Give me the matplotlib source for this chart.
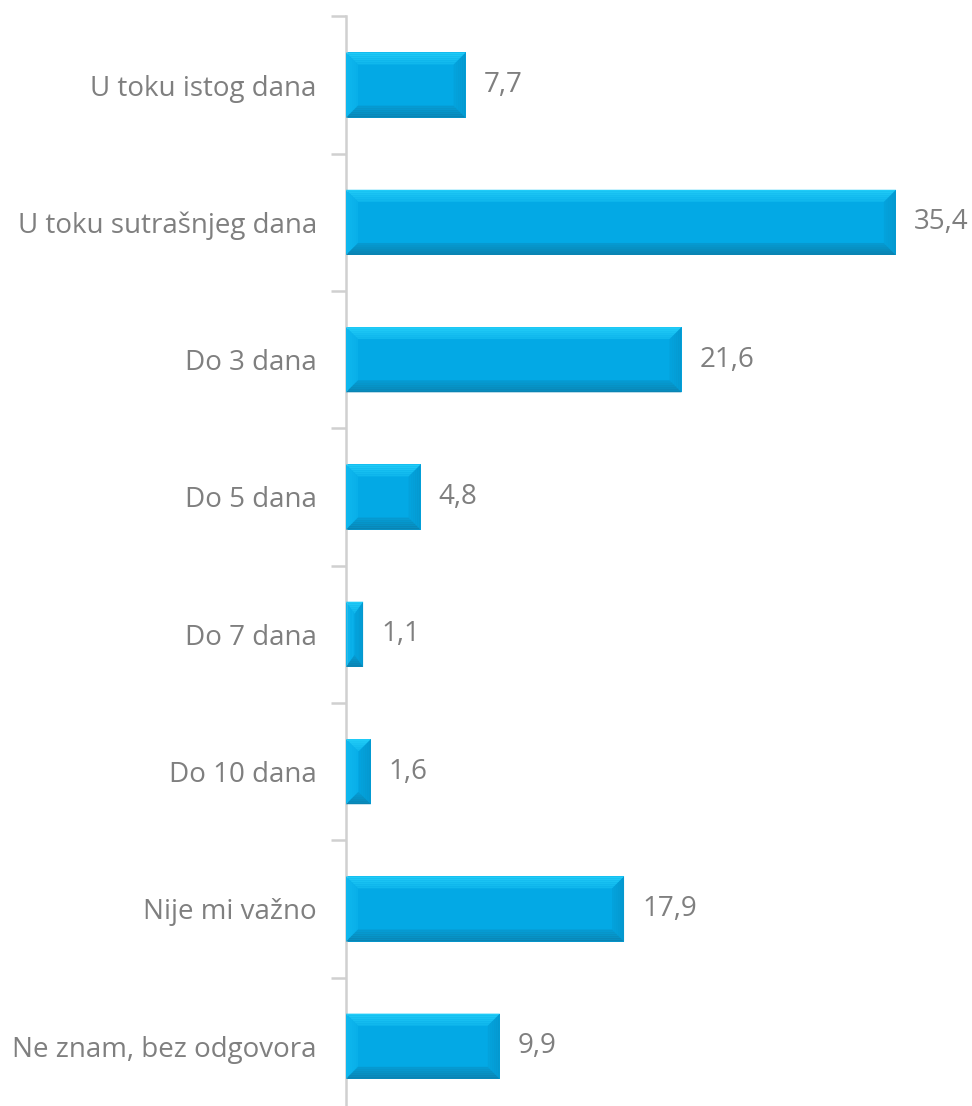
import matplotlib
matplotlib.use("Agg")
import matplotlib.pyplot as plt
from matplotlib.patches import Polygon, Rectangle
from matplotlib.colors import to_rgb
import numpy as np

categories = ["U toku istog dana", "U toku sutrašnjeg dana", "Do 3 dana", "Do 5 dana",
              "Do 7 dana", "Do 10 dana", "Nije mi važno", "Ne znam, bez odgovora"]
values = [7.7, 35.4, 21.6, 4.8, 1.1, 1.6, 17.9, 9.9]
value_labels = ["7,7", "35,4", "21,6", "4,8", "1,1", "1,6", "17,9", "9,9"]

plt.rcParams['font.family'] = ['Open Sans', 'DejaVu Sans']

W, H = 972, 1106
fig = plt.figure(figsize=(W / 100, H / 100), dpi=100)
ax_left, ax_right = 346, 972
ax_top, ax_bottom = 16.4, 1114.9
ax = fig.add_axes([ax_left / W, 1 - ax_bottom / H, (ax_right - ax_left) / W, (ax_bottom - ax_top) / H])

n = len(categories)
xmax = 40.3
ax.set_xlim(0, xmax)
ax.set_ylim(n - 0.5, -0.5)

px_x = (ax_right - ax_left) / xmax
px_y = (ax_bottom - ax_top) / n
bar_h = 0.475

main = np.array(to_rgb("#03A9E5"))
edge_cols = {
    "top": np.array(to_rgb("#22CDF8")),
    "bot": np.array(to_rgb("#0A82B0")),
    "lft": np.array(to_rgb("#10B8EE")),
    "rgt": np.array(to_rgb("#0497CE")),
}

bev_px = 12
steps = 6
for i, v in enumerate(values):
    y0 = i - bar_h / 2
    y1 = i + bar_h / 2
    ax.add_patch(Rectangle((0, y0), v, bar_h, facecolor=main, edgecolor="none", zorder=2))
    bx = min(bev_px / px_x, v / 2)
    by = min(bev_px / px_y, bar_h / 2)
    for k in range(steps):
        t0 = k / steps
        t1 = (k + 1) / steps
        w = 1 - (k + 0.5) / steps
        ax0, ax1 = bx * t0, bx * t1
        ay0, ay1 = by * t0, by * t1
        polys = {
            "top": [(ax0, y0 + ay0), (v - ax0, y0 + ay0), (v - ax1, y0 + ay1), (ax1, y0 + ay1)],
            "bot": [(ax0, y1 - ay0), (v - ax0, y1 - ay0), (v - ax1, y1 - ay1), (ax1, y1 - ay1)],
            "lft": [(ax0, y0 + ay0), (ax1, y0 + ay1), (ax1, y1 - ay1), (ax0, y1 - ay0)],
            "rgt": [(v - ax0, y0 + ay0), (v - ax1, y0 + ay1), (v - ax1, y1 - ay1), (v - ax0, y1 - ay0)],
        }
        for key in ["lft", "rgt", "top", "bot"]:
            c = main + (edge_cols[key] - main) * (0.35 + 0.65 * w)
            ax.add_patch(Polygon(polys[key], closed=True, facecolor=np.clip(c, 0, 1),
                                 edgecolor="none", zorder=3, antialiased=True))
    ax.text(v + 18 / px_x, i, value_labels[i], va="center", ha="left",
            fontsize=20, color="#7F7F7F", zorder=4)

ax.set_yticks(np.arange(n + 1) - 0.5, minor=False)
ax.set_yticklabels([])
ax.set_yticks(np.arange(n), minor=True)
ax.set_yticklabels(categories, minor=True, fontsize=20, color="#7F7F7F")
ax.tick_params(axis="y", which="major", length=11, width=1.8, color="#D0D0D0", direction="out")
ax.tick_params(axis="y", which="minor", length=0, pad=21)
ax.set_xticks([])
for s in ["top", "right", "bottom"]:
    ax.spines[s].set_visible(False)
ax.spines["left"].set_color("#D0D0D0")
ax.spines["left"].set_linewidth(1.8)

fig.savefig("out.png", dpi=100)
